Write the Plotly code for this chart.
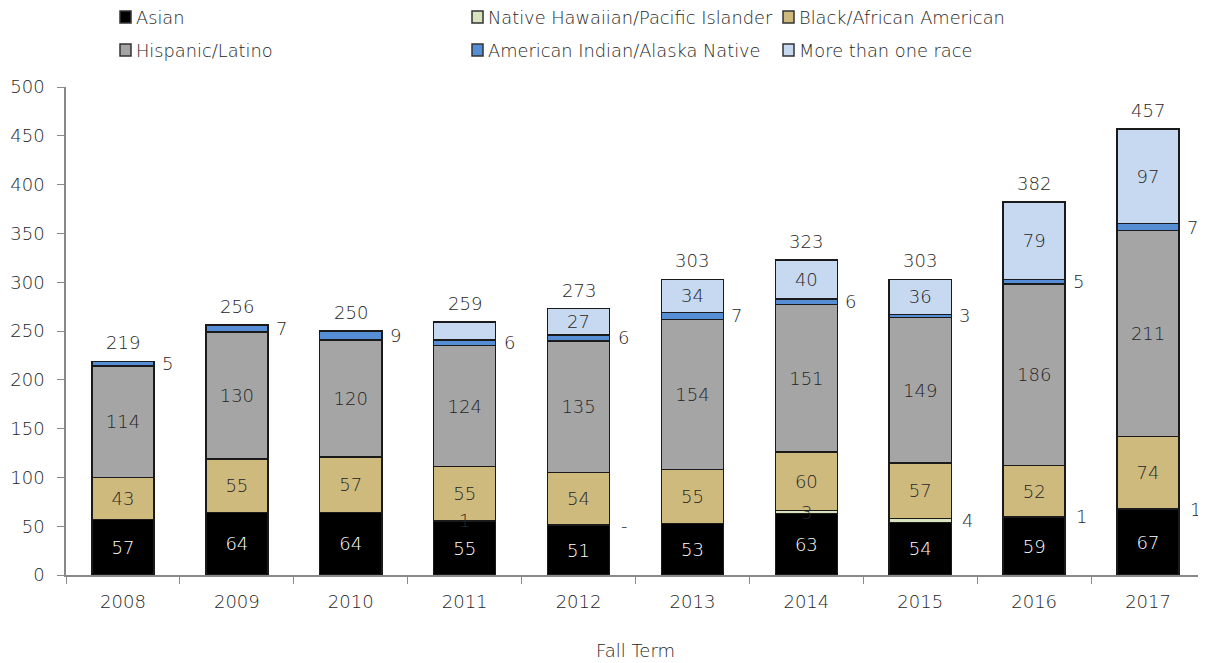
import plotly.graph_objects as go

years = ["2008", "2009", "2010", "2011", "2012", "2013", "2014", "2015", "2016", "2017"]
asian = [57, 64, 64, 55, 51, 53, 63, 54, 59, 67]
nhpi = [0, 0, 0, 1, 0, 0, 3, 4, 1, 1]
black = [43, 55, 57, 55, 54, 55, 60, 57, 52, 74]
hispanic = [114, 130, 120, 124, 135, 154, 151, 149, 186, 211]
aian = [5, 7, 9, 6, 6, 7, 6, 3, 5, 7]
multi = [0, 0, 0, 18, 27, 34, 40, 36, 79, 97]

# labels as printed on the original chart
nhpi_labels = ["", "", "", "1", "-", "", "3", "4", "1", "1"]
nhpi_label_inside = [False, False, False, True, False, False, True, False, False, False]
multi_labels = ["", "", "", "", "27", "34", "40", "36", "79", "97"]

y_ticks = [0, 50, 100, 150, 200, 250, 300, 350, 400, 450, 500]

series_names = [
    "Asian", "Native Hawaiian/Pacific Islander", "Black/African American",
    "Hispanic/Latino", "American Indian/Alaska Native", "More than one race",
]
series_colors = ["#000000", "#D7E4BD", "#CFBA7E", "#A5A5A5", "#558ED5", "#C6D9F1"]

FONT = "DejaVu Sans"
TXT = "#262626"
FS = 18
FW = 300
EDGE = dict(color="#1a1a1a", width=1.5)

# page body has an 8px margin; figure is sized so the plot lands where the reference has it
OFF = 8
W, H = 1206 - OFF, 663 - OFF
PL, PR, PT, PB = 66 - OFF, 1205 - OFF, 87 - OFF, 575 - OFF  # plot area in figure px
PW, PH = PR - PL, PB - PT


def fnt(size=FS, color=TXT):
    return dict(family=FONT, size=size, color=color, weight=FW)


fig = go.Figure()


def bar(idx, vals, text, tcolor):
    fig.add_trace(go.Bar(
        x=years, y=vals, name=series_names[idx],
        marker=dict(color=series_colors[idx], line=EDGE),
        text=text, textposition="inside", insidetextanchor="middle",
        textangle=0, constraintext="none",
        textfont=fnt(color=tcolor),
        showlegend=False, hoverinfo="x+y+name",
    ))


bar(0, asian, [str(v) for v in asian], "#ffffff")
bar(1, nhpi, [""] * len(years), TXT)
bar(2, black, [str(v) for v in black], TXT)
bar(3, hispanic, [str(v) for v in hispanic], TXT)
bar(4, aian, [""] * len(years), TXT)
bar(5, multi, multi_labels, TXT)

totals = [a + b + c + d + e + f for a, b, c, d, e, f in zip(asian, nhpi, black, hispanic, aian, multi)]

annotations = []
for i, yr in enumerate(years):
    annotations.append(dict(
        x=i, y=totals[i], xref="x", yref="y", text=str(totals[i]), showarrow=False,
        xanchor="center", yanchor="bottom", yshift=6, font=fnt(),
    ))
    base = asian[i] + nhpi[i] + black[i] + hispanic[i]
    annotations.append(dict(
        x=i, y=base + aian[i] / 2, xref="x", yref="y", text=str(aian[i]), showarrow=False,
        xanchor="left", yanchor="middle", xshift=37, font=fnt(),
    ))
    if nhpi_labels[i]:
        yc = asian[i] + nhpi[i] / 2
        if nhpi_label_inside[i]:
            annotations.append(dict(
                x=i, y=yc, xref="x", yref="y", text=nhpi_labels[i], showarrow=False,
                xanchor="center", yanchor="middle", font=fnt(),
            ))
        else:
            annotations.append(dict(
                x=i, y=yc, xref="x", yref="y", text=nhpi_labels[i], showarrow=False,
                xanchor="left", yanchor="middle", xshift=40, font=fnt(),
            ))

# legend drawn as squares + text, three columns by two rows (page px)
legend_cols_px = [120, 472, 783]
legend_rows_px = [17, 50]
legend_layout = [(0, 0), (1, 0), (2, 0), (0, 1), (1, 1), (2, 1)]  # (col, row) per series


def px_x(p):
    return (p - OFF - PL) / PW


def px_y(p):
    return (PB - (p - OFF)) / PH


shapes = []
for k, (c, r) in enumerate(legend_layout):
    x0 = legend_cols_px[c]
    yc = legend_rows_px[r]
    shapes.append(dict(
        type="rect", xref="paper", yref="paper",
        x0=px_x(x0), x1=px_x(x0 + 11),
        y0=px_y(yc + 6), y1=px_y(yc - 6),
        fillcolor=series_colors[k], line=dict(color="#333333", width=1.5),
    ))
    annotations.append(dict(
        xref="paper", yref="paper", x=px_x(x0 + 14), y=px_y(yc),
        text=series_names[k], showarrow=False, xanchor="left", yanchor="middle",
        font=fnt(size=17.8),
    ))

fig.update_layout(
    width=W, height=H,
    margin=dict(l=PL, r=W - PR, t=PT, b=H - PB, autoexpand=False),
    paper_bgcolor="white", plot_bgcolor="white",
    barmode="stack", bargap=0.455,
    font=fnt(),
    showlegend=False,
    annotations=annotations,
    shapes=shapes,
    xaxis=dict(
        type="category", range=[-0.5, 9.5], showline=True, linecolor="#898989", linewidth=1.5,
        ticks="outside", tickson="boundaries", ticklen=7, tickcolor="#898989",
        tickfont=fnt(), ticklabelstandoff=10,
        title=dict(text="Fall Term", font=fnt(), standoff=33),
        showgrid=False, zeroline=False, automargin=False,
    ),
    yaxis=dict(
        range=[0, 500], tickvals=y_ticks, showline=True, linecolor="#898989",
        linewidth=1.5, ticks="outside", ticklen=7, tickcolor="#898989",
        tickfont=fnt(), ticklabelstandoff=9,
        showgrid=False, zeroline=False, automargin=False,
    ),
)

fig.write_html("out.html")
